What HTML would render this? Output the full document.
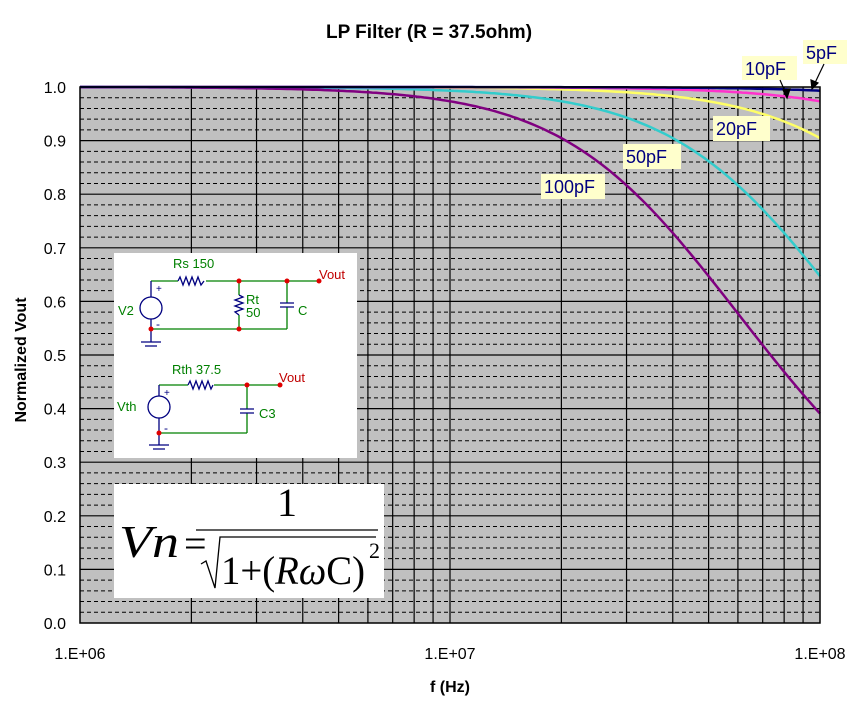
<!DOCTYPE html>
<html><head><meta charset="utf-8"><style>
body{margin:0;background:#fff;width:861px;height:705px;overflow:hidden}
svg{display:block}
text{font-family:"Liberation Sans",Arial,sans-serif}
</style></head><body>
<svg id="s" width="861" height="705" viewBox="0 0 861 705" xmlns="http://www.w3.org/2000/svg">
<rect x="80" y="87" width="740" height="536" fill="#c0c0c0"/>
<g id="grid"></g>
<g id="curves" fill="none" stroke-width="2.5" stroke-linejoin="round"></g>
<rect x="80" y="87" width="740" height="536" fill="none" stroke="#000" stroke-width="1.5"/>
<text x="429" y="38" font-size="19" font-weight="bold" text-anchor="middle">LP Filter (R = 37.5ohm)</text>
<g font-size="16" text-anchor="end" id="ylab"></g>
<g font-size="16" text-anchor="middle">
<text x="80" y="659">1.E+06</text><text x="450" y="659">1.E+07</text><text x="820" y="659">1.E+08</text>
</g>
<text x="450" y="692" font-size="16" font-weight="bold" text-anchor="middle">f (Hz)</text>
<text transform="translate(26,360) rotate(-90)" font-size="16" font-weight="bold" text-anchor="middle">Normalized Vout</text>

<!-- labels -->
<g font-size="18" fill="#000080">
<rect x="541" y="174" width="64" height="25" fill="#ffffcc"/><text x="544" y="193">100pF</text>
<rect x="623" y="144" width="58" height="25" fill="#ffffcc"/><text x="626" y="163">50pF</text>
<rect x="713" y="116" width="57" height="25" fill="#ffffcc"/><text x="716" y="135">20pF</text>
<rect x="742" y="56" width="55" height="24" fill="#ffffcc"/><text x="745" y="75">10pF</text>
<rect x="803" y="40" width="44" height="24" fill="#ffffcc"/><text x="806" y="59">5pF</text>
</g>
<g stroke="#000" stroke-width="1.2">
<line x1="780" y1="80" x2="787" y2="96"/><polygon points="787,98 783,90 790,89" fill="#000"/>
<line x1="824" y1="64" x2="813" y2="87"/><polygon points="812,89 811,80 818,83" fill="#000"/>
</g>

<!-- circuit -->
<rect x="114" y="253" width="243" height="205" fill="#fff"/>
<g fill="none" stroke-width="1.3">
<g stroke="#008000">
<path d="M151 281H178M206 281H319M151 329H287M239 281V295M239 315V329M287 281V303M287 307V329"/>
<path d="M159 385H188M214 385H280M159 433H247M247 385V409M247 413V433"/>
</g>
<g stroke="#000080">
<path d="M151 281V297M151 319V342M141 342H161M145 346H157"/>
<circle cx="151" cy="308" r="11"/>
<path d="M178 281l2-4 3 8 3-8 3 8 3-8 3 8 3-8 3 8 3-4"/>
<path d="M239 295l4 2-8 3 8 3-8 3 8 3-8 3 4 3"/>
<path d="M280 303H294M280 307H294"/>
<path d="M159 385V396M159 418V445M149 445H169M153 449H165"/>
<circle cx="159" cy="407" r="11"/>
<path d="M188 385l2-4 3 8 3-8 3 8 3-8 3 8 3-8 3 8 2-4"/>
<path d="M240 409H254M240 413H254"/>
</g>
</g>
<g fill="#e00000">
<circle cx="239" cy="281" r="2.5"/><circle cx="287" cy="281" r="2.5"/><circle cx="319" cy="281" r="2.5"/>
<circle cx="151" cy="329" r="2.5"/><circle cx="239" cy="329" r="2.5"/>
<circle cx="247" cy="385" r="2.5"/><circle cx="280" cy="385" r="2.5"/><circle cx="159" cy="433" r="2.5"/>
</g>
<g font-size="13" fill="#008000">
<text x="173" y="268">Rs  150</text><text x="246" y="304">Rt</text><text x="246" y="317">50</text>
<text x="298" y="315">C</text><text x="118" y="315">V2</text>
<text x="172" y="374">Rth  37.5</text><text x="117" y="411">Vth</text><text x="259" y="418">C3</text>
</g>
<g font-size="12" fill="#000080"><text x="156" y="292" font-size="10">+</text><text x="156" y="328" font-size="12">-</text>
<text x="164" y="396" font-size="10">+</text><text x="164" y="432">-</text></g>
<g font-size="13" fill="#c00000"><text x="319" y="279">Vout</text><text x="279" y="382">Vout</text></g>

<!-- formula -->
<rect x="114" y="484" width="270" height="114" fill="#fff"/>
<g fill="#000">
<text x="119" y="557" font-size="46" font-style="italic" style="font-family:'Liberation Serif',serif" textLength="60" lengthAdjust="spacingAndGlyphs">Vn</text>
<text x="184" y="557" font-size="40" style="font-family:'Liberation Serif',serif">=</text>
<text x="287" y="516" font-size="40" text-anchor="middle" style="font-family:'Liberation Serif',serif">1</text>
<line x1="196" y1="530" x2="378" y2="530" stroke="#000" stroke-width="1.3"/>
<path d="M201 564l5-3 9 27 L220 537 H376" fill="none" stroke="#000" stroke-width="1.3"/>
<text x="221" y="584" font-size="40" style="font-family:'Liberation Serif',serif" textLength="144" lengthAdjust="spacingAndGlyphs">1+(<tspan font-style="italic">Rω</tspan>C)</text>
<text x="369" y="558" font-size="22" style="font-family:'Liberation Serif',serif">2</text>
</g>
</svg>
<script>
function X(f){return 80+370*(Math.log10(f)-6);}
function Y(v){return 623-536*v;}
var g=document.getElementById('grid'),h='';
for(var i=1;i<50;i++){var y=623-i*536/50;if(i%5==0)h+='<line x1="80" x2="820" y1="'+y+'" y2="'+y+'" stroke="#000" stroke-width="1.2"/>';else h+='<line x1="80" x2="820" y1="'+y+'" y2="'+y+'" stroke="#000" stroke-width="1" stroke-dasharray="4,3"/>';}
for(var d=6;d<8;d++)for(var k=2;k<=10;k++){var x=X(k*Math.pow(10,d));if(x<819)h+='<line y1="87" y2="623" x1="'+x+'" x2="'+x+'" stroke="#000" stroke-width="1.2"/>';}
g.innerHTML=h;
var yl='';for(var i=0;i<=10;i++)yl+='<text x="66" y="'+(Y(i/10)+6)+'">'+(i/10).toFixed(1)+'</text>';
document.getElementById('ylab').innerHTML=yl;
var cs=[[20e-12,'#ffff66'],[50e-12,'#33cccc'],[100e-12,'#800080'],[10e-12,'#ff33cc'],[5e-12,'#000080']],c='';
cs.forEach(function(p){var s='';for(var i=0;i<=200;i++){var f=Math.pow(10,6+2*i/200);var a=37.5*2*Math.PI*f*p[0];var v=1/Math.sqrt(1+a*a);s+=(i?'L':'M')+X(f).toFixed(1)+' '+Y(v).toFixed(1);}c+='<path d="'+s+'" stroke="'+p[1]+'"/>';});
document.getElementById('curves').innerHTML=c;
</script>
</body></html>
